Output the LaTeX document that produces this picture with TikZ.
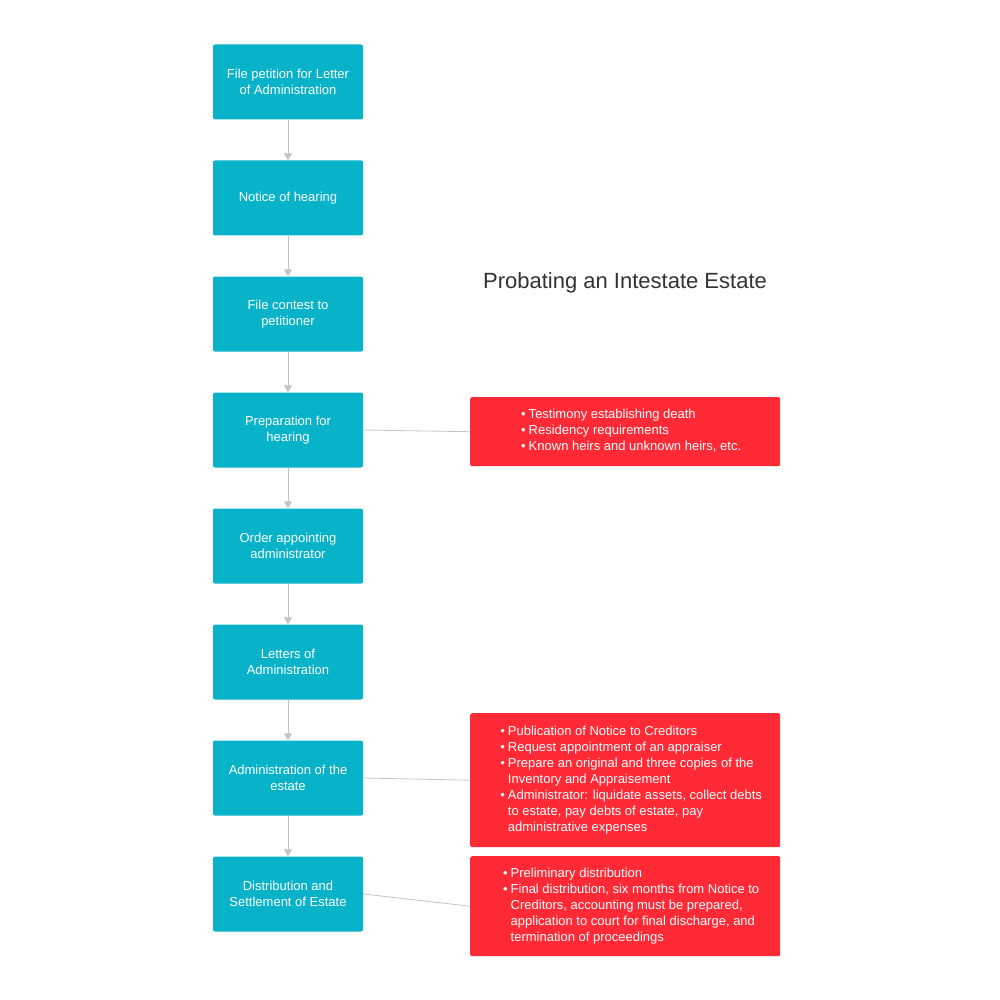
\documentclass[tikz,border=0pt]{standalone}
\usepackage{fontspec}
\setmainfont{Liberation Sans}
\usetikzlibrary{arrows.meta}
\definecolor{teal1}{HTML}{08B2C8}
\definecolor{red1}{HTML}{FF2A35}
\definecolor{gline}{HTML}{C4C4C4}
\tikzset{
 stepbox/.style={fill=teal1,rounded corners=2pt,minimum width=150pt,minimum height=75pt,text=white,align=center,font=\fontsize{13}{16}\selectfont,inner sep=2pt},
 notebox/.style={fill=red1,rounded corners=2pt,text=white,font=\fontsize{13}{16}\selectfont,anchor=north west,inner xsep=0pt,inner ysep=0pt,minimum width=310pt},
 arr/.style={draw=gline,line width=0.8pt,-{Triangle[length=7pt,width=8pt]}},
 link/.style={draw=gline,line width=0.8pt}
}
\newcommand{\bl}[1]{\textbullet&#1\\}
\begin{document}
\begin{tikzpicture}[x=1pt,y=-1pt]
\useasboundingbox (0,0) rectangle (1000,1000);
\fill[white] (0,0) rectangle (1000,1000);
\node[stepbox] (s1) at (288,82) {File petition for Letter\\of Administration};
\node[stepbox] (s2) at (288,198) {Notice of hearing};
\node[stepbox] (s3) at (288,314) {File contest to\\petitioner};
\node[stepbox] (s4) at (288,430) {Preparation for\\hearing};
\node[stepbox] (s5) at (288,546) {Order appointing\\administrator};
\node[stepbox] (s6) at (288,662) {Letters of\\Administration};
\node[stepbox] (s7) at (288,778) {Administration of the\\estate};
\node[stepbox] (s8) at (288,894) {Distribution and\\Settlement of Estate};
\foreach \a/\b in {s1/s2,s2/s3,s3/s4,s4/s5,s5/s6,s6/s7,s7/s8}
  \draw[arr] (\a.south) -- (\b.north);
\node[font=\fontsize{22}{26}\selectfont,text=black!80] (title) at (625,283) {Probating an Intestate Estate};
\node[notebox,minimum height=69pt] (n1) at (470,397) {\hspace{12pt}\begin{tabular}[c]{@{}l@{\hspace{3pt}}l@{}}\bl{Testimony establishing death}\bl{Residency requirements}\bl{Known heirs and unknown heirs, etc.}\end{tabular}};
\node[notebox,minimum height=134pt] (n2) at (470,713) {\hspace{12pt}\begin{tabular}[c]{@{}l@{\hspace{3pt}}l@{}}\bl{Publication of Notice to Creditors}\bl{Request appointment of an appraiser}\bl{Prepare an original and three copies of the}&Inventory and Appraisement\\\bl{Administrator: liquidate assets, collect debts}&to estate, pay debts of estate, pay\\&administrative expenses\\\end{tabular}};
\node[notebox,minimum height=100pt] (n3) at (470,856) {\hspace{12pt}\begin{tabular}[c]{@{}l@{\hspace{3pt}}l@{}}\bl{Preliminary distribution}\bl{Final distribution, six months from Notice to}&Creditors, accounting must be prepared,\\&application to court for final discharge, and\\&termination of proceedings\\\end{tabular}};
\draw[link] (s4.east) -- (n1.west);
\draw[link] (s7.east) -- (n2.west);
\draw[link] (s8.east) -- (n3.west);
\end{tikzpicture}
\end{document}
